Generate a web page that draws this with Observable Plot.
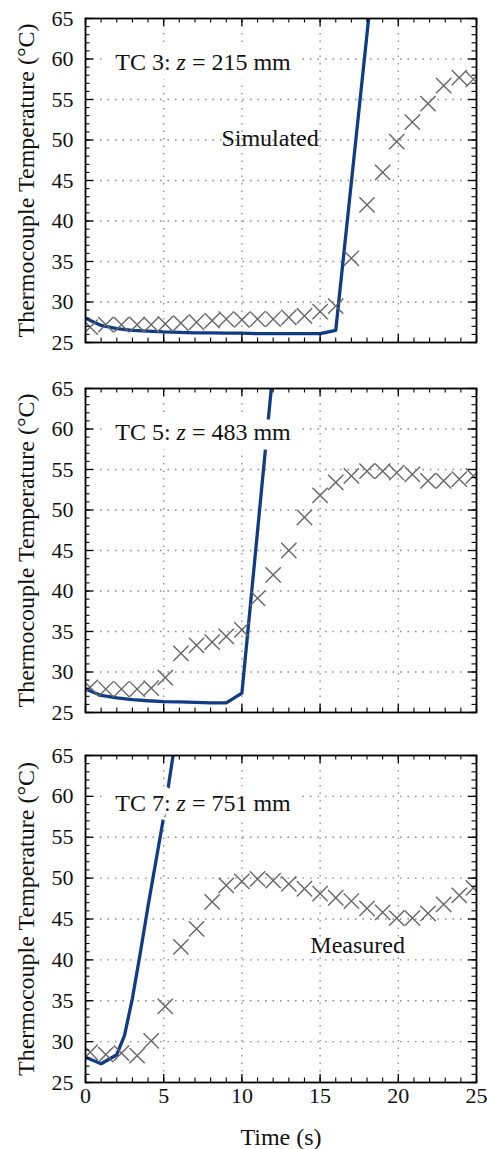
<!DOCTYPE html>
<html><head><meta charset="utf-8">
<script src="https://cdn.jsdelivr.net/npm/d3@7"></script>
<script src="https://cdn.jsdelivr.net/npm/@observablehq/plot@0.6"></script>
<style>
body{margin:0;background:#fff;}
#chart{width:487px;}
#chart svg{display:block;background:#fff;}
#chart svg text, #chart svg tspan{font-family:'Liberation Serif','DejaVu Serif',serif !important;}
</style></head><body><div id="chart"></div>
<script>
// ---- data ----
const tcNames = ["TC 3", "TC 5", "TC 7"];
const tcDepths = [215, 483, 751];

const measuredTime = [0.3, 1.3, 2.3, 3.3, 4.2, 5.1, 6.1, 7.1, 8.1, 9.0, 10.0, 11.0, 12.0, 13.0, 14.0, 15.0, 16.0, 17.0, 18.0, 19.0, 19.9, 20.9, 21.9, 22.9, 23.9, 24.8];
const measuredTC3 = [26.9, 27.2, 27.2, 27.2, 27.2, 27.3, 27.4, 27.5, 27.7, 27.9, 27.8, 27.9, 27.9, 28.1, 28.3, 28.8, 29.5, 35.4, 42.0, 46.0, 49.8, 52.2, 54.5, 56.7, 57.7, 57.5];
const measuredTC5 = [28.1, 27.9, 27.9, 27.9, 28.0, 29.3, 32.3, 33.3, 33.7, 34.4, 35.2, 39.1, 42.0, 45.0, 49.1, 51.8, 53.4, 54.2, 54.8, 54.8, 54.6, 54.4, 53.6, 53.6, 53.8, 54.2];
const measuredTC7 = [28.7, 28.4, 28.6, 28.3, 30.1, 34.3, 41.6, 43.8, 47.1, 49.1, 49.6, 49.9, 49.7, 49.3, 48.7, 48.1, 47.6, 47.2, 46.3, 45.8, 45.1, 45.1, 45.7, 46.8, 47.9, 48.8];

const simTimeTC3 = [0, 1, 2, 3, 4, 5, 6, 7, 8, 9, 10, 11, 12, 13, 14, 15, 16, 17, 18, 19];
const simTC3 = [28.0, 27.1, 26.7, 26.5, 26.4, 26.3, 26.25, 26.2, 26.2, 26.15, 26.15, 26.1, 26.1, 26.1, 26.1, 26.1, 26.5, 44.8, 63.1, 81.4];
const simTimeTC5 = [0, 1, 2, 3, 4, 5, 6, 7, 8, 9, 10, 11, 12];
const simTC5 = [27.9, 27.1, 26.8, 26.6, 26.45, 26.35, 26.3, 26.25, 26.2, 26.2, 27.4, 47.4, 67.4];
const simTimeTC7 = [0, 1, 2, 2.5, 3, 3.5, 4, 5, 6];
const simTC7 = [28.1, 27.3, 28.4, 30.8, 35.3, 40.8, 46.6, 57.5, 70.0];

const xMajorTicks = [0, 5, 10, 15, 20, 25];
const xMinorTicks = [0,1,2,3,4,5,6,7,8,9,10,11,12,13,14,15,16,17,18,19,20,21,22,23,24,25];
const yMajorTicks = [25, 30, 35, 40, 45, 50, 55, 60, 65];
const yMinorTicks = [25,26,27,28,29,30,31,32,33,34,35,36,37,38,39,40,41,42,43,44,45,46,47,48,49,50,51,52,53,54,55,56,57,58,59,60,61,62,63,64,65];
const xGridTicks = [5, 10, 15, 20];
const yGridTicks = [30, 35, 40, 45, 50, 55, 60];

const yLabel = "Thermocouple Temperature (°C)";
const xLabel = "Time (s)";
// label anchor positions (data units)
const tcLabelX = [1.9, 1.9, 1.9];
const tcLabelY = [59.6, 59.6, 59.2];
const noteText = ["Simulated", null, "Measured"];
const noteX = [11.8, null, 17.4];
const noteY = [50.2, null, 41.8];

// ---- drawing ----
const measured = [measuredTC3, measuredTC5, measuredTC7];
const simT = [simTimeTC3, simTimeTC5, simTimeTC7];
const simV = [simTC3, simTC5, simTC7];
const W = 487, ML = 85, MR = 11;
const layout = [
  {height: 365, mt: 18, mb: 23},
  {height: 370, mt: 23, mb: 23},
  {height: 414, mt: 20, mb: 67}
];
const SERIF = "Liberation Serif";
const MAJ = 8, MIN = 4.5;

// inward tick marks: short rules hugging the frame edges
function tickMarks(plotW, plotH) {
  const out = [];
  for (const [data, len, sw] of [[xMinorTicks, MIN, 1.1], [xMajorTicks, MAJ, 1.3]]) {
    out.push(Plot.ruleX(data, {x: d => d, insetTop: plotH - len, stroke: "#000", strokeWidth: sw}));
    out.push(Plot.ruleX(data, {x: d => d, insetBottom: plotH - len, stroke: "#000", strokeWidth: sw}));
  }
  for (const [data, len, sw] of [[yMinorTicks, MIN, 1.1], [yMajorTicks, MAJ, 1.3]]) {
    out.push(Plot.ruleY(data, {y: d => d, insetRight: plotW - len, stroke: "#000", strokeWidth: sw}));
    out.push(Plot.ruleY(data, {y: d => d, insetLeft: plotW - len, stroke: "#000", strokeWidth: sw}));
  }
  return out;
}

function panel(i) {
  const L = layout[i];
  const last = i === 2;
  const plotW = W - ML - MR, plotH = L.height - L.mt - L.mb;
  const meas = measuredTime.map((t, j) => ({t, v: measured[i][j]}));
  const sim = simT[i].map((t, j) => ({t, v: simV[i][j]}));
  const label = [{x: tcLabelX[i], y: tcLabelY[i], text: `${tcNames[i]}: z = ${tcDepths[i]} mm`}];
  const notes = noteText[i] ? [{x: noteX[i], y: noteY[i], text: noteText[i]}] : [];
  const labelOpts = {x: "x", y: "y", text: "text", textAnchor: "start", lineAnchor: "middle", fontSize: 24, fontFamily: SERIF};
  const svg = Plot.plot({
    width: W, height: L.height,
    marginLeft: ML, marginRight: MR, marginTop: L.mt, marginBottom: L.mb,
    x: {domain: [0, 25], label: null, axis: last ? undefined : null},
    y: {domain: [25, 65], label: null},
    style: {fontFamily: SERIF, fontSize: "21px", color: "#111", background: "#fff", overflow: "visible"},
    marks: [
      Plot.gridX(xGridTicks, {stroke: "#888", strokeOpacity: 1, strokeWidth: 1.3, strokeDasharray: "1.5,6"}),
      Plot.gridY(yGridTicks, {stroke: "#888", strokeOpacity: 1, strokeWidth: 1.3, strokeDasharray: "1.5,6"}),
      Plot.line(sim, {x: "t", y: "v", stroke: "#0f3c84", strokeWidth: 3.3, clip: true}),
      Plot.dot(meas, {x: "t", y: "v", symbol: "times", r: 7, stroke: "#666", strokeWidth: 1.4, clip: true}),
      // white knock-out behind the label, then the label itself
      Plot.text(label, {...labelOpts, fill: "white", stroke: "white", strokeWidth: 19}),
      Plot.text(label, {...labelOpts, fill: "#111"}),
      Plot.text(notes, {x: "x", y: "y", text: "text", textAnchor: "middle", lineAnchor: "middle", fontSize: 24, fontFamily: SERIF, fill: "#111"}),
      ...tickMarks(plotW, plotH),
      Plot.axisY(yMajorTicks, {anchor: "left", tickSize: 0, tickPadding: 12, fontSize: 22, fontFamily: SERIF}),
      last ? Plot.axisX(xMajorTicks, {anchor: "bottom", tickSize: 0, tickPadding: 5, fontSize: 22, fontFamily: SERIF}) : null,
      Plot.frame({stroke: "#000", strokeWidth: 1.8}),
      Plot.text([yLabel], {frameAnchor: "left", rotate: -90, dx: -59, lineAnchor: "middle", textAnchor: "middle", fontSize: 24, fontFamily: SERIF, fill: "#111"}),
      last ? Plot.text([xLabel], {frameAnchor: "bottom", dy: 55, lineAnchor: "middle", textAnchor: "middle", fontSize: 24, fontFamily: SERIF, fill: "#111"}) : null
    ]
  });
  // italic math z in the thermocouple label
  d3.select(svg).selectAll("text").each(function() {
    const s = this.textContent;
    const m = /^(TC \d: )z( = .*)$/.exec(s);
    if (m && this.childElementCount === 0) {
      this.textContent = "";
      const t = d3.select(this);
      t.append("tspan").text(m[1]);
      t.append("tspan").attr("font-style", "italic").text("z");
      t.append("tspan").text(m[2]);
    }
  });
  return svg;
}

const chart = document.getElementById("chart");
for (let i = 0; i < 3; i++) chart.appendChild(panel(i));
</script>
</body></html>
